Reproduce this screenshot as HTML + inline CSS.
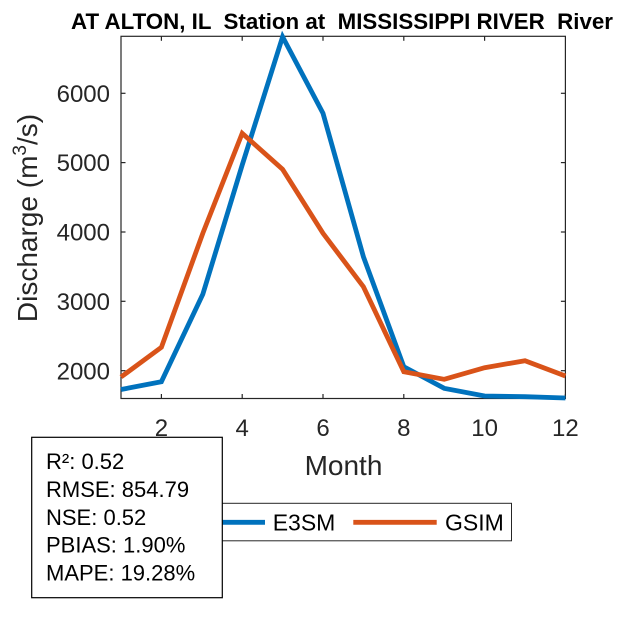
<!DOCTYPE html>
<html>
<head>
<meta charset="utf-8">
<style>
  html, body { margin:0; padding:0; background:#fff; }
  svg { display:block; }
  text { font-family: "Liberation Sans", Arial, sans-serif; }
</style>
</head>
<body>
<svg width="625" height="625" viewBox="0 0 625 625" xmlns="http://www.w3.org/2000/svg">
  <rect x="0" y="0" width="625" height="625" fill="#fff"/>

  <!-- Title -->
  <text x="342" y="29" font-size="22" font-weight="bold" fill="#000" text-anchor="middle" style="white-space:pre" textLength="542" lengthAdjust="spacingAndGlyphs">AT ALTON, IL  Station at  MISSISSIPPI RIVER  River</text>

  <!-- Axes box -->
  <rect x="121" y="36.3" width="444.4" height="362.2" fill="none" stroke="#262626" stroke-width="1.2"/>

  <!-- X ticks (bottom & top) -->
  <g stroke="#262626" stroke-width="1.2">
    <line x1="161.4" y1="398.5" x2="161.4" y2="394"/>
    <line x1="242.2" y1="398.5" x2="242.2" y2="394"/>
    <line x1="323" y1="398.5" x2="323" y2="394"/>
    <line x1="403.8" y1="398.5" x2="403.8" y2="394"/>
    <line x1="484.6" y1="398.5" x2="484.6" y2="394"/>
    <line x1="565.4" y1="398.5" x2="565.4" y2="394"/>
    <line x1="161.4" y1="36.3" x2="161.4" y2="40.8"/>
    <line x1="242.2" y1="36.3" x2="242.2" y2="40.8"/>
    <line x1="323" y1="36.3" x2="323" y2="40.8"/>
    <line x1="403.8" y1="36.3" x2="403.8" y2="40.8"/>
    <line x1="484.6" y1="36.3" x2="484.6" y2="40.8"/>
    <!-- Y ticks left & right -->
    <line x1="121" y1="370.7" x2="125.5" y2="370.7"/>
    <line x1="121" y1="301.3" x2="125.5" y2="301.3"/>
    <line x1="121" y1="232" x2="125.5" y2="232"/>
    <line x1="121" y1="162.6" x2="125.5" y2="162.6"/>
    <line x1="121" y1="93.3" x2="125.5" y2="93.3"/>
    <line x1="565.4" y1="370.7" x2="560.9" y2="370.7"/>
    <line x1="565.4" y1="301.3" x2="560.9" y2="301.3"/>
    <line x1="565.4" y1="232" x2="560.9" y2="232"/>
    <line x1="565.4" y1="162.6" x2="560.9" y2="162.6"/>
    <line x1="565.4" y1="93.3" x2="560.9" y2="93.3"/>
  </g>

  <!-- X tick labels -->
  <g font-size="24" fill="#262626" text-anchor="middle">
    <text x="161.4" y="436">2</text>
    <text x="242.2" y="436">4</text>
    <text x="323" y="436">6</text>
    <text x="403.8" y="436">8</text>
    <text x="484.6" y="436">10</text>
    <text x="565.4" y="436">12</text>
  </g>

  <!-- Y tick labels -->
  <g font-size="24" fill="#262626" text-anchor="end">
    <text x="110" y="379.3">2000</text>
    <text x="110" y="309.9">3000</text>
    <text x="110" y="240.6">4000</text>
    <text x="110" y="171.2">5000</text>
    <text x="110" y="101.9">6000</text>
  </g>

  <!-- X label -->
  <text x="343.5" y="475" font-size="28" fill="#262626" text-anchor="middle">Month</text>

  <!-- Y label -->
  <text transform="translate(37,218) rotate(-90)" font-size="28" fill="#262626" text-anchor="middle">Discharge (m<tspan font-size="19" dy="-11">3</tspan><tspan dy="11">/s)</tspan></text>

  <!-- E3SM series -->
  <polyline fill="none" stroke="#0072BD" stroke-width="4.8" stroke-linejoin="miter"
    points="121,389.5 161.4,381.7 202.8,294.3 242.2,165 282.6,36.8 323,113.3 363.4,256.7 403.8,366.7 444.2,388.3 484.6,396 525,396.7 565.4,398"/>
  <!-- GSIM series -->
  <polyline fill="none" stroke="#D95319" stroke-width="4.8" stroke-linejoin="miter"
    points="121,377 161.4,347.3 202.8,233.3 242.2,133.3 282.6,169.3 323,233.3 363.4,286.7 403.8,371.7 444.2,379.3 484.6,367.7 525,360.7 565.4,376"/>

  <!-- Legend -->
  <rect x="172" y="503.3" width="339.5" height="37.5" fill="#fff" stroke="#262626" stroke-width="1"/>
  <line x1="182" y1="522.3" x2="265" y2="522.3" stroke="#0072BD" stroke-width="4.8"/>
  <text x="272.7" y="530.7" font-size="23" fill="#000">E3SM</text>
  <line x1="353.3" y1="522.3" x2="436.7" y2="522.3" stroke="#D95319" stroke-width="4.8"/>
  <text x="445" y="530.7" font-size="23" fill="#000">GSIM</text>

  <!-- Stats box -->
  <rect x="31.7" y="437.3" width="190.6" height="160.4" fill="#fff" stroke="#000" stroke-width="1.2"/>
  <g font-size="22" fill="#000">
    <text x="46" y="469">R²: 0.52</text>
    <text x="46" y="496.8">RMSE: 854.79</text>
    <text x="46" y="524.8">NSE: 0.52</text>
    <text x="46" y="552.7">PBIAS: 1.90%</text>
    <text x="46" y="580.7">MAPE: 19.28%</text>
  </g>
</svg>
</body>
</html>
